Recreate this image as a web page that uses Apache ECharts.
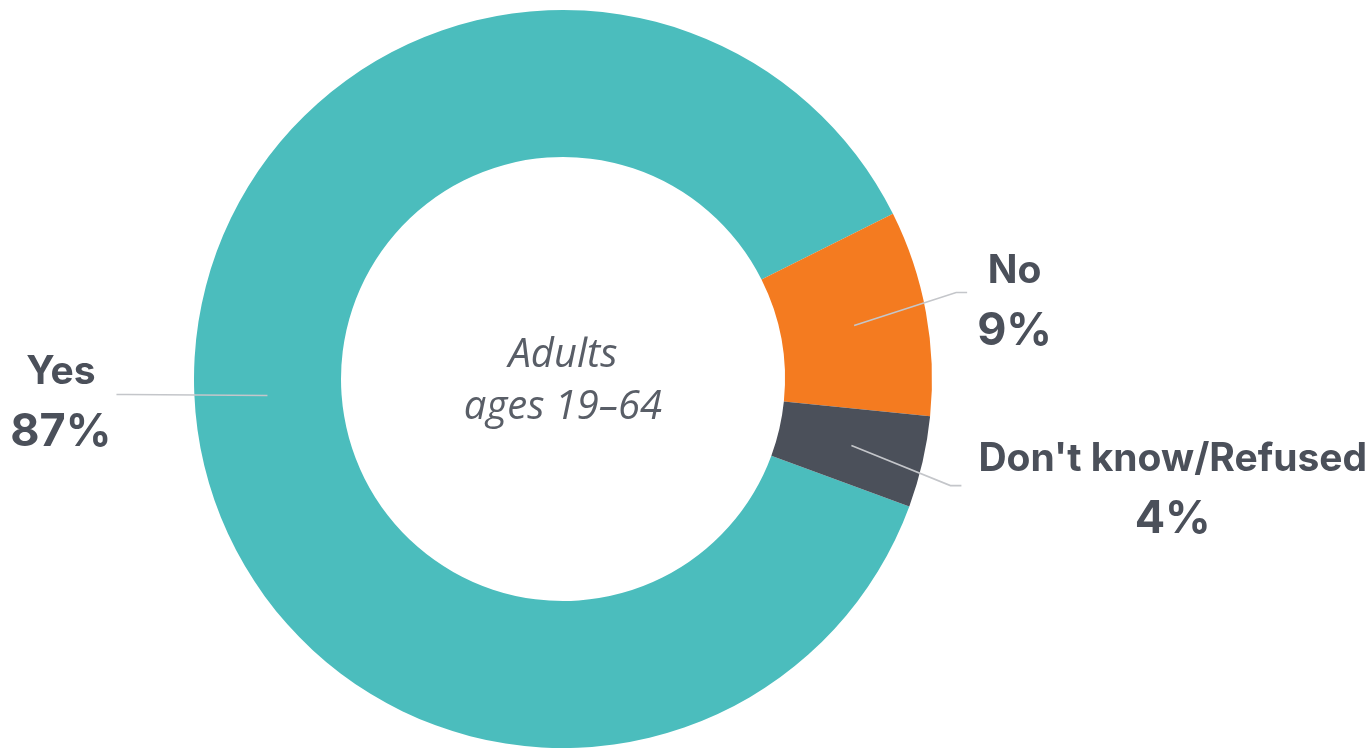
<!DOCTYPE html>
<html>
<head>
<meta charset="utf-8">
<style>
  html, body { margin: 0; padding: 0; background: #ffffff; }
  #chart { width: 1370px; height: 749px; }
</style>
<script src="https://cdn.jsdelivr.net/npm/echarts@6/dist/echarts.min.js"></script>
</head>
<body>
<div id="chart"></div>
<script>
// ---- data ----
const categories = ['Yes', 'No', "Don't know/Refused"];
const values = [87, 9, 4];
const colors = ['#4BBDBD', '#F47B20', '#4B505A'];
const centerText = ['Adults', 'ages 19\u201364'];

// ---- layout (label line shapes relative to the computed line start) ----
const lineShapes = [
  { dx: -141, dy: -1, len2: -10, gap: -5, ty: 8 },
  { dx: 102, dy: -33, len2: 11, gap: 10, ty: 9 },
  { dx: 99, dy: 40, len2: 11, gap: 17, ty: 4 }
];

const CENTER = [563, 379];
const R_IN = 222, R_OUT = 369, R_MID = 296;
const total = values.reduce((a, b) => a + b, 0);
// boundary between "Yes" and "No" sits at 26.6 degrees; Yes is drawn first clockwise
const startAngle = 26.6 + 360 * values[0] / total;

const data = categories.map((c, i) => ({ name: c, value: values[i], itemStyle: { color: colors[i] } }));

const chart = echarts.init(document.getElementById('chart'), null, { renderer: 'canvas' });
chart.setOption({
  animation: false,
  backgroundColor: '#ffffff',
  title: {
    text: centerText.join('\n'),
    left: CENTER[0],
    top: 330,
    textAlign: 'center',
    padding: 0,
    textStyle: {
      fontFamily: 'Open Sans',
      fontStyle: 'italic',
      fontWeight: 'normal',
      fontSize: 40,
      lineHeight: 52,
      color: '#595E67'
    }
  },
  series: [
    {
      type: 'pie',
      center: CENTER,
      radius: [R_IN, R_OUT],
      startAngle: startAngle,
      clockwise: true,
      silent: true,
      label: { show: false },
      labelLine: { show: false },
      itemStyle: { borderWidth: 0 },
      emphasis: { disabled: true },
      data: data
    },
    {
      type: 'pie',
      center: CENTER,
      radius: [R_IN, R_MID],
      startAngle: startAngle,
      clockwise: true,
      silent: true,
      avoidLabelOverlap: false,
      z: 3,
      itemStyle: { color: 'rgba(0,0,0,0)', borderWidth: 0 },
      emphasis: { disabled: true },
      label: {
        show: true,
        position: 'outside',
        formatter: p => '{n|' + p.name + '}\n{p|' + p.value + '%}',
        rich: {
          n: { fontFamily: 'Inter', fontWeight: 'bold', fontSize: 39, lineHeight: 60, color: '#4B505A', align: 'center' },
          p: { fontFamily: 'Inter', fontWeight: 'bold', fontSize: 45, lineHeight: 60, color: '#4B505A', align: 'center' }
        }
      },
      labelLine: {
        show: true,
        length: 20,
        length2: 10,
        lineStyle: { color: '#C4C6CA', width: 1.6 }
      },
      labelLayout: function (params) {
        const cfg = lineShapes[params.dataIndex];
        const s = params.labelLinePoints[0];
        const elbow = [s[0] + cfg.dx, s[1] + cfg.dy];
        const end = [elbow[0] + cfg.len2, elbow[1]];
        return {
          labelLinePoints: [s, elbow, end],
          x: end[0] + cfg.gap,
          y: end[1] + cfg.ty,
          align: cfg.len2 > 0 ? 'left' : 'right',
          verticalAlign: 'middle'
        };
      },
      data: data.map(d => ({ name: d.name, value: d.value }))
    }
  ]
});
</script>
</body>
</html>
